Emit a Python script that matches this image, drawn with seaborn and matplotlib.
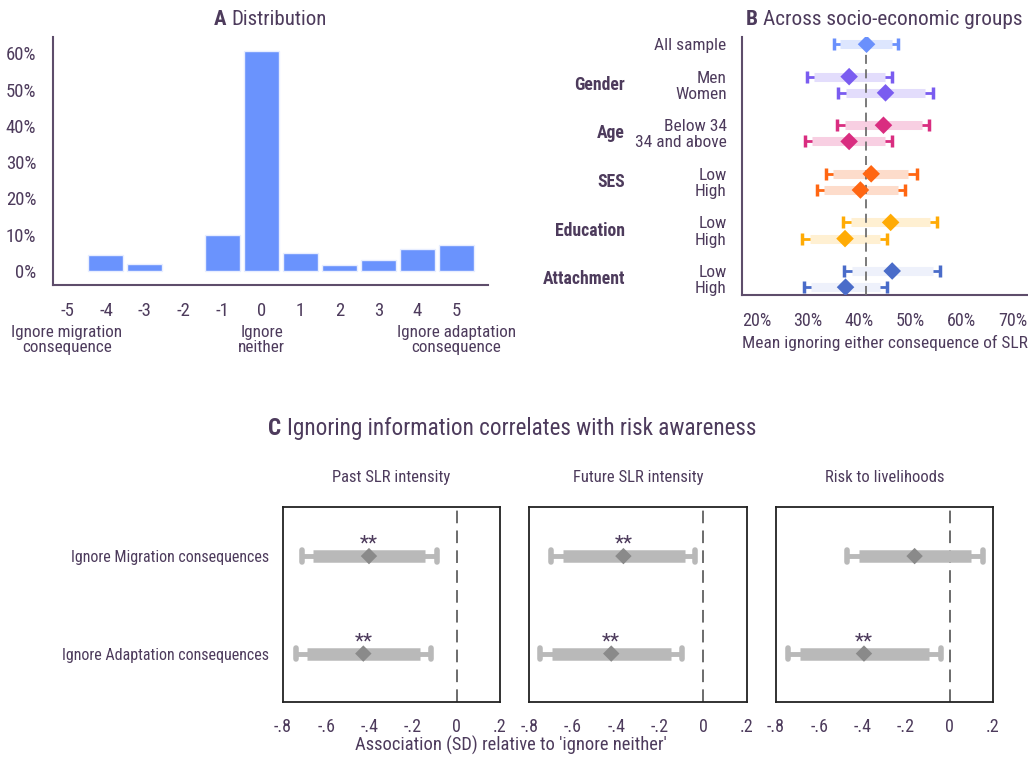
import numpy as np
import pandas as pd
import seaborn as sns
import matplotlib.pyplot as plt
import matplotlib.transforms as mtransforms

# --- Panel A: distribution of ignoring score ---
a_scores = [-5, -4, -3, -2, -1, 0, 1, 2, 3, 4, 5]
a_share = [0.0, 4.5, 2.0, 0.0, 10.0, 60.6, 4.9, 1.6, 2.9, 5.9, 7.1]
a_ends = {-5: "Ignore migration\nconsequence", 0: "Ignore\nneither", 5: "Ignore adaptation\nconsequence"}

# --- Panel B: means by socio-economic group ---
b_labels = ["All sample", "Men", "Women", "Below 34", "34 and above", "Low", "High",
            "Low", "High", "Low", "High"]
b_group = ["All", "Gender", "Gender", "Age", "Age", "SES", "SES",
           "Education", "Education", "Attachment", "Attachment"]
b_pos = [0, 2, 3, 5, 6, 8, 9, 11, 12, 14, 15]
b_mean = [41.5, 38.1, 45.2, 44.8, 38.1, 42.4, 40.3, 46.2, 37.3, 46.5, 37.4]
b_lo95 = [35.2, 29.8, 35.9, 35.8, 29.4, 33.5, 31.8, 37.0, 29.0, 37.1, 29.2]
b_hi95 = [47.6, 46.5, 54.5, 53.7, 46.5, 51.3, 49.0, 55.2, 45.5, 55.8, 45.4]
b_lo90 = [36.3, 31.2, 37.4, 37.3, 30.8, 35.0, 33.2, 38.5, 30.4, 38.6, 30.6]
b_hi90 = [46.5, 45.1, 53.0, 52.3, 45.1, 49.6, 47.6, 53.8, 44.2, 54.4, 44.1]
b_overall = 41.4

group_dark = {"All": "#6a90fc", "Gender": "#7a5cf0", "Age": "#d92d80",
              "SES": "#ff6612", "Education": "#ffab05", "Attachment": "#4a6cc9"}
group_light = {"All": "#dde6fe", "Gender": "#e3ddfc", "Age": "#f8cfe2",
               "SES": "#fddccb", "Education": "#fff0d2", "Attachment": "#eef1fb"}

# --- Panel C: association with risk awareness ---
c_outcomes = ["Past SLR intensity", "Future SLR intensity", "Risk to livelihoods"]
c_rows = ["Ignore Migration consequences", "Ignore Adaptation consequences"]
c_est = [[-0.403, -0.429], [-0.367, -0.423], [-0.161, -0.394]]
c_lo95 = [[-0.711, -0.740], [-0.700, -0.749], [-0.470, -0.745]]
c_hi95 = [[-0.091, -0.117], [-0.036, -0.096], [0.152, -0.038]]
c_lo90 = [[-0.662, -0.690], [-0.647, -0.694], [-0.419, -0.688]]
c_hi90 = [[-0.145, -0.170], [-0.085, -0.149], [0.100, -0.095]]
c_stars = [["**", "**"], ["**", "**"], ["", "**"]]

TXT = "#4d3b5c"
AX = "#5e4d6b"

sns.set_theme(style="white")
plt.rcParams["font.family"] = ["Roboto Condensed", "Archivo Narrow", "Liberation Sans", "DejaVu Sans"]
plt.rcParams.update({"text.color": TXT, "axes.labelcolor": TXT,
                     "xtick.color": AX, "ytick.color": AX,
                     "xtick.labelcolor": TXT, "ytick.labelcolor": TXT})

fig = plt.figure(figsize=(10.28, 7.62), dpi=100)
renderer = fig.canvas.get_renderer()


def panel_title(x, y, letter, rest, transform, size):
    # bold panel letter followed by regular text, centred as one unit on x
    t1 = fig.text(x, y, letter + " ", transform=transform, ha="left", va="center",
                  fontsize=size, fontweight="bold")
    t2 = fig.text(0, 0, rest, ha="left", va="baseline", fontsize=size)
    b1 = t1.get_window_extent(renderer)
    w2 = t2.get_window_extent(renderer).width
    dx = (b1.width + w2) / 2
    t1.set_transform(transform + mtransforms.Affine2D().translate(-dx, 0))
    t2.remove()
    fig.canvas.draw()
    t2 = plt.annotate(rest, xy=(1, 0), xycoords=t1, ha="left", va="bottom", fontsize=size,
                      annotation_clip=False)
    return t1, t2


# ---------- A ----------
axA = fig.add_axes([0.0516, 0.626, 0.4232, 0.3255])
dfA = pd.DataFrame({"score": a_scores, "share": a_share})
sns.barplot(data=dfA[dfA["share"] > 0], x="score", y="share", native_scale=True, width=0.9,
            color="#6a93fd", saturation=1, edgecolor="#e8eeff", linewidth=1, ax=axA)
axA.set_xlim(-5.36, 5.82)
axA.set_ylim(-3.9, 64.5)
axA.set_xticks(a_scores)
axA.set_xticklabels([str(s) for s in a_scores])
axA.set_yticks([0, 10, 20, 30, 40, 50, 60])
axA.set_yticklabels([f"{v}%" for v in range(0, 70, 10)])
axA.set_xlabel("")
axA.set_ylabel("")
sns.despine(ax=axA)
for s in ["left", "bottom"]:
    axA.spines[s].set_color(AX)
    axA.spines[s].set_linewidth(1.5)
axA.tick_params(axis="both", direction="out", length=7, width=1.2, labelsize=13.5, pad=5)
trA = mtransforms.blended_transform_factory(axA.transData, axA.transAxes)
for k, lab in a_ends.items():
    axA.text(k, -0.16, lab, transform=trA, ha="center", va="top", fontsize=12.3,
             linespacing=1.05)

# ---------- B ----------
axB = fig.add_axes([0.7218, 0.6129, 0.2772, 0.3386])
dfB = pd.DataFrame({"label": b_labels, "group": b_group, "pos": b_pos, "mean": b_mean,
                    "lo95": b_lo95, "hi95": b_hi95, "lo90": b_lo90, "hi90": b_hi90})
for _, r in dfB.iterrows():
    dark = group_dark[r["group"]]
    light = group_light[r["group"]]
    axB.errorbar(r["mean"], r["pos"], xerr=[[r["mean"] - r["lo95"]], [r["hi95"] - r["mean"]]],
                 fmt="none", ecolor=dark, elinewidth=2, capsize=4, capthick=2.5, zorder=2)
    axB.hlines(r["pos"], r["lo90"], r["hi90"], color=light, linewidth=6.5, zorder=3)
axB.axvline(b_overall, color="#707070", linestyle=(0, (5, 3)), linewidth=1.3, zorder=4)
sns.scatterplot(data=dfB, x="mean", y="pos", hue="group", palette=group_dark, marker="D",
                s=80, edgecolor="none", legend=False, zorder=5, ax=axB)
axB.set_xlim(17.2, 72.8)
axB.set_ylim(15.48, -0.45)
axB.set_xticks([20, 30, 40, 50, 60, 70])
axB.set_xticklabels([f"{v}%" for v in range(20, 80, 10)])
axB.set_yticks(b_pos)
axB.set_yticklabels(b_labels)
axB.set_xlabel("Mean ignoring either consequence of SLR", fontsize=12.5, labelpad=4)
axB.set_ylabel("")
sns.despine(ax=axB)
for s in ["left", "bottom"]:
    axB.spines[s].set_color(AX)
    axB.spines[s].set_linewidth(1.5)
axB.tick_params(axis="x", direction="out", length=7, width=1.2, labelsize=13, pad=5)
axB.tick_params(axis="y", direction="out", length=7, width=1.2, labelsize=12.5, pad=4)
trB = mtransforms.blended_transform_factory(axB.transAxes, axB.transData)
for g in ["Gender", "Age", "SES", "Education", "Attachment"]:
    ymid = dfB.loc[dfB["group"] == g, "pos"].mean()
    axB.text(-0.41, ymid, g, transform=trB, ha="right", va="center",
             fontsize=12.7, fontweight="bold")

# ---------- C ----------
lefts = [0.275, 0.5149, 0.7546]
for i, outcome in enumerate(c_outcomes):
    ax = fig.add_axes([lefts[i], 0.0783, 0.2114, 0.2559])
    dfC = pd.DataFrame({"row": c_rows, "pos": [1, 2], "est": c_est[i],
                        "lo95": c_lo95[i], "hi95": c_hi95[i],
                        "lo90": c_lo90[i], "hi90": c_hi90[i], "star": c_stars[i]})
    ax.axvline(0, color="#606060", linestyle=(0, (7, 4)), linewidth=1.3, zorder=1)
    for _, r in dfC.iterrows():
        ax.hlines(r["pos"], r["lo95"], r["hi95"], color="#b9b9b9", linewidth=3.5, zorder=2)
        ax.vlines([r["lo95"], r["hi95"]], r["pos"] - 0.06, r["pos"] + 0.06, color="#b9b9b9",
                  linewidth=4, capstyle="round", zorder=2)
        ax.hlines(r["pos"], r["lo90"], r["hi90"], color="#b9b9b9", linewidth=9, zorder=3)
        if r["star"]:
            ax.text(r["est"], r["pos"] - 0.12, r["star"], ha="center", va="center",
                    fontsize=15, color=TXT, zorder=5)
    sns.scatterplot(data=dfC, x="est", y="pos", marker="D", s=70, color="#8a8a8a",
                    edgecolor="none", legend=False, zorder=4, ax=ax)
    ax.set_xlim(-0.8, 0.2)
    ax.set_ylim(2.5, 0.5)
    ax.set_xticks([-0.8, -0.6, -0.4, -0.2, 0, 0.2])
    ax.set_xticklabels(["-.8", "-.6", "-.4", "-.2", "0", ".2"])
    ax.set_xlabel("")
    ax.set_ylabel("")
    for s in ax.spines.values():
        s.set_color("#222222")
        s.set_linewidth(1.3)
    ax.tick_params(axis="x", direction="out", length=7, width=1.2, labelsize=13,
                   color="#8a7a96", pad=4)
    if i == 0:
        ax.set_yticks([1, 2])
        ax.set_yticklabels(c_rows)
        ax.tick_params(axis="y", direction="out", length=7, width=1.2, labelsize=11.5,
                       color=AX, pad=3)
    else:
        ax.set_yticks([])
    ax.text(0.5, 1.155, outcome, transform=ax.transAxes, ha="center", va="center",
            fontsize=12)

fig.text(0.497, 0.022, "Association (SD) relative to 'ignore neither'", ha="center",
         va="center", fontsize=13.3)

# panel titles
panel_title(0.5, 1.07, "A", "Distribution", axA.transAxes, 15)
panel_title(0.5, 1.066, "B", "Across socio-economic groups", axB.transAxes, 15.3)
panel_title(0.498, 0.438, "C", "Ignoring information correlates with risk awareness",
            fig.transFigure, 16.7)

fig.savefig("out.png", dpi=100, facecolor="white")
